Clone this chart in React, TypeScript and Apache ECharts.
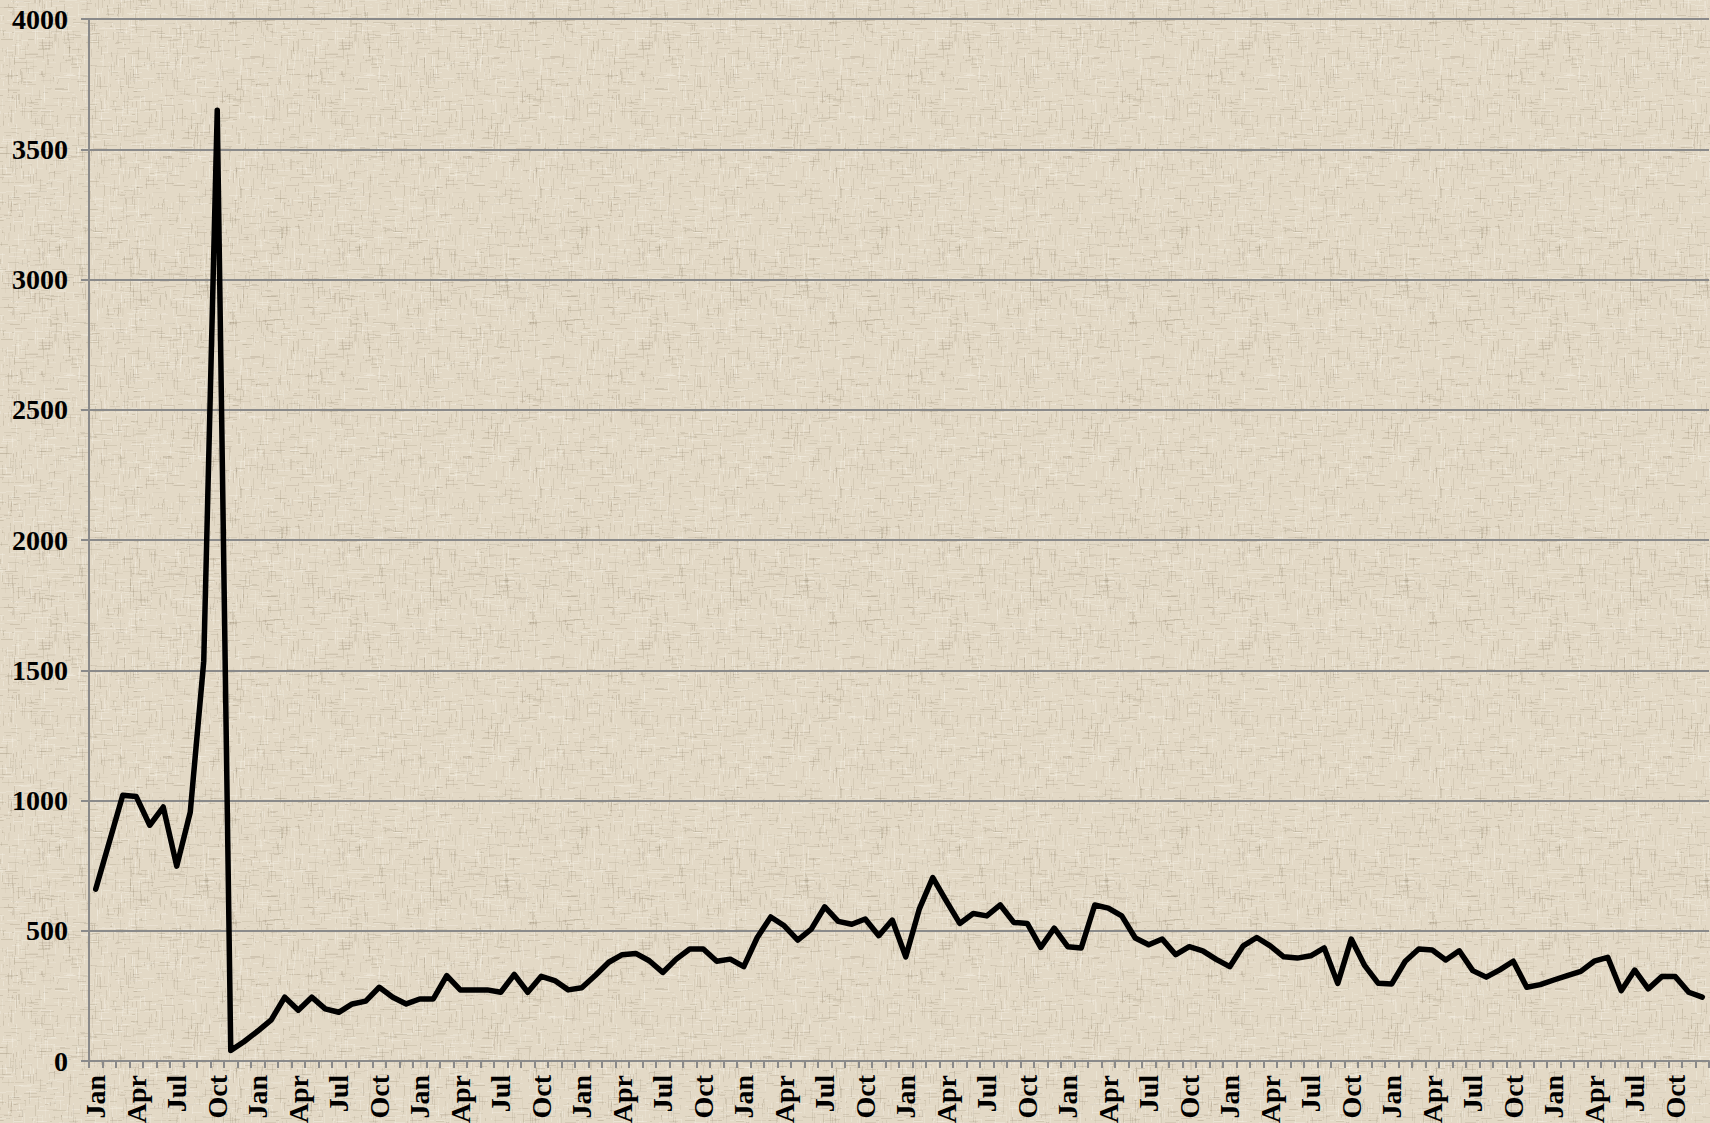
import React, { useEffect, useRef } from "react";
import * as echarts from "echarts";

// Month tick labels (shown every third month: Jan, Apr, Jul, Oct)
const monthNames = ["Jan", "Feb", "Mar", "Apr", "May", "Jun", "Jul", "Aug", "Sep", "Oct", "Nov", "Dec"];
const yearCount = 10;

// Monthly values (120 months)
const values = [
  660, 840, 1020, 1015, 905, 975, 748, 955, 1535, 3650, 40, 75,
  115, 158, 245, 195, 245, 200, 187, 219, 230, 283, 245, 219,
  238, 238, 328, 273, 273, 273, 264, 332, 264, 325, 309, 273,
  281, 328, 379, 408, 413, 385, 340, 391, 430, 430, 383, 391,
  362, 474, 553, 519, 464, 506, 592, 536, 525, 545, 481, 541,
  400, 583, 704, 615, 528, 566, 557, 599, 532, 528, 436, 510,
  439, 434, 599, 587, 557, 472, 446, 468, 408, 439, 423, 390,
  362, 442, 474, 442, 400, 395, 404, 434, 298, 468, 366, 298,
  296, 383, 430, 426, 388, 423, 347, 322, 350, 383, 283, 293,
  311, 328, 344, 383, 398, 270, 349, 277, 324, 324, 264, 245,
];

// Y axis scale
const yMin = 0;
const yMax = 4000;
const yStep = 500;

const categories: string[] = [];
for (let y = 0; y < yearCount; y++) {
  for (const m of monthNames) categories.push(`${m}|${y + 1}`);
}

function makeTexture(): string {
  const size = 300;
  const c = document.createElement("canvas");
  c.width = size;
  c.height = size;
  const ctx = c.getContext("2d");
  if (!ctx) return "";
  ctx.fillStyle = "#e3d9c6";
  ctx.fillRect(0, 0, size, size);
  let s = 987654321;
  const next = () => {
    s = (Math.imul(s, 1103515245) + 12345) >>> 0;
    return (s >>> 8) / 16777216;
  };
  for (let k = 0; k < 4200; k++) {
    const horiz = next() < 0.5;
    const dark = next() < 0.58;
    const x = Math.floor(next() * size);
    const y = Math.floor(next() * size);
    const len = 2 + Math.floor(next() * 12);
    const a = 0.05 + next() * 0.16;
    ctx.fillStyle = dark ? `rgba(130,116,90,${a.toFixed(3)})` : `rgba(252,249,240,${(a + 0.12).toFixed(3)})`;
    if (horiz) {
      ctx.fillRect(x, y, len, 1);
      if (x + len > size) ctx.fillRect(x - size, y, len, 1);
    } else {
      ctx.fillRect(x, y, 1, len);
      if (y + len > size) ctx.fillRect(x, y - size, 1, len);
    }
  }
  return c.toDataURL();
}

const fontFamily = '"Liberation Serif", "Times New Roman", serif';
const axisGray = "#8a8a8a";

export default function App() {
  const ref = useRef<HTMLDivElement | null>(null);

  useEffect(() => {
    const el = ref.current;
    if (!el) return;
    const tex = makeTexture();
    if (tex) el.style.backgroundImage = `url(${tex})`;
    const chart = echarts.init(el, undefined, { renderer: "svg" });
    chart.setOption({
      animation: false,
      backgroundColor: "transparent",
      grid: {
        left: 89,
        top: 19,
        width: 1620,
        height: 1042,
        containLabel: false,
        outerBoundsMode: "none",
      },
      xAxis: {
        type: "category",
        data: categories,
        boundaryGap: true,
        axisLine: { show: true, lineStyle: { color: axisGray, width: 2 } },
        axisTick: { show: true, interval: 0, length: 7, lineStyle: { color: axisGray, width: 2 } },
        axisLabel: {
          interval: 2,
          rotate: 90,
          margin: 14,
          fontFamily,
          fontWeight: "bold",
          fontSize: 28,
          color: "#000",
          formatter: (v: string) => v.split("|")[0],
        },
        splitLine: { show: false },
      },
      yAxis: {
        type: "value",
        min: yMin,
        max: yMax,
        interval: yStep,
        axisLine: { show: true, lineStyle: { color: axisGray, width: 2 } },
        axisTick: { show: true, length: 8, lineStyle: { color: axisGray, width: 2 } },
        axisLabel: {
          margin: 21,
          fontFamily,
          fontWeight: "bold",
          fontSize: 28,
          color: "#000",
          formatter: (v: number) => String(v),
        },
        splitLine: { show: true, lineStyle: { color: axisGray, width: 2 } },
      },
      series: [
        {
          type: "line",
          data: values,
          symbol: "none",
          lineStyle: { color: "#000", width: 5.5, cap: "round", join: "round" },
        },
      ],
    });
    return () => {
      chart.dispose();
    };
  }, []);

  return (
    <div
      ref={ref}
      style={{
        position: "fixed",
        left: 0,
        top: 0,
        width: 1710,
        height: 1123,
        backgroundColor: "#e2d8c4",
        backgroundRepeat: "repeat",
      }}
    />
  );
}
